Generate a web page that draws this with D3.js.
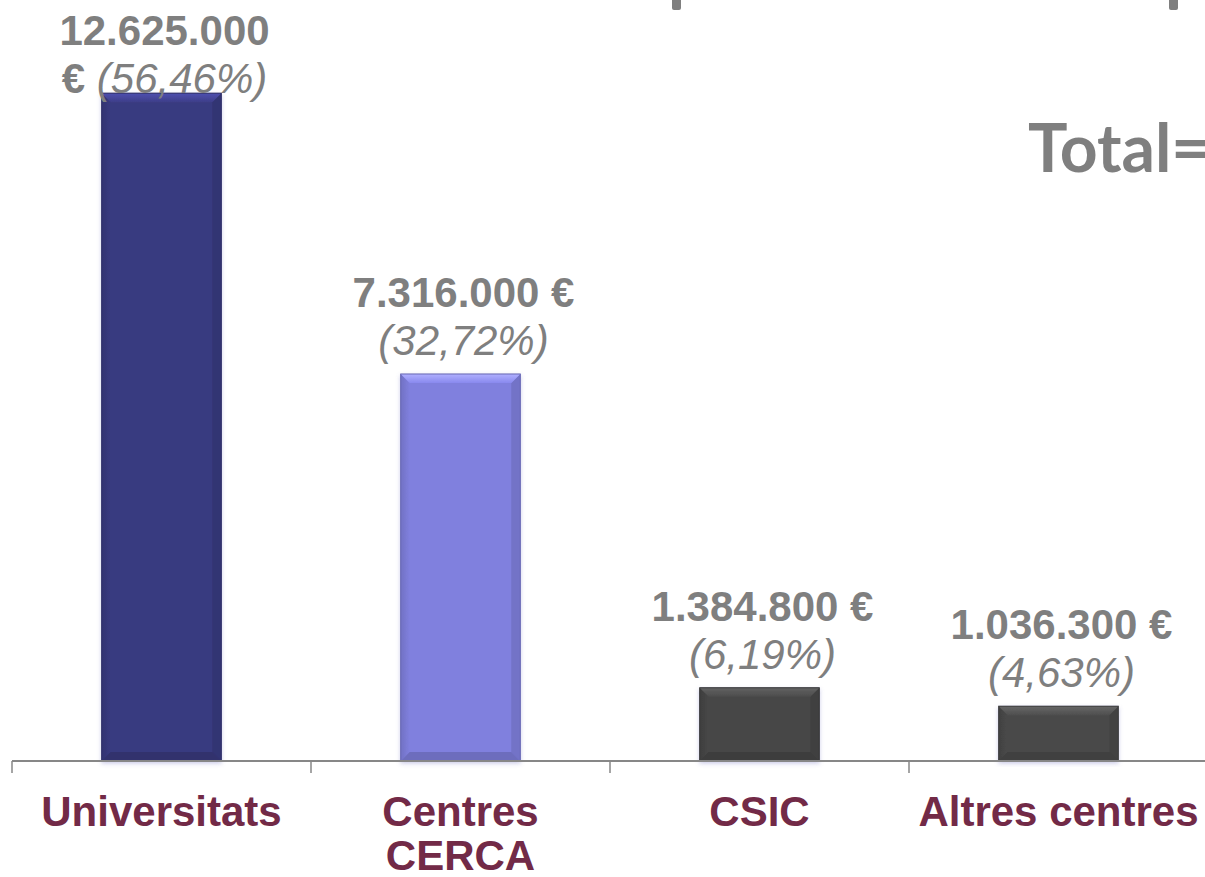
<!DOCTYPE html>
<html>
<head>
<meta charset="utf-8">
<script src="https://cdn.jsdelivr.net/npm/d3@7"></script>
<style>
  html, body { margin: 0; padding: 0; background: #fff; overflow: hidden; }
  svg { display: block; }
</style>
</head>
<body>
<div id="chart"></div>
<script>
// data
var categories = ["Universitats", "Centres CERCA", "CSIC", "Altres centres"];
var amounts = [12625000, 7316000, 1384800, 1036300];
var shares = [56.46, 32.72, 6.19, 4.63];
var barColors = ["#393a80", "#8080de", "#474747", "#4a4a4a"];

var width = 1205, height = 877;
var baseY = 761;

var loc = d3.formatLocale({decimal: ",", thousands: ".", grouping: [3], currency: ["", " €"]});
var fmtAmount = loc.format(",.0f"),
    fmtShare = loc.format(".2f");

var svg = d3.select("#chart").append("svg")
    .attr("width", width)
    .attr("height", height);

var defs = svg.append("defs");

var x = d3.scaleBand()
    .domain(categories)
    .range([12, 1208])
    .paddingInner(0.6)
    .paddingOuter(0.3);

var y = d3.scaleLinear()
    .domain([0, 13000000])
    .range([baseY, baseY - 13 * 52.9]);

// gradients for the bevel look
barColors.forEach(function(c, i) {
    var top = defs.append("linearGradient")
        .attr("id", "top" + i).attr("x1", 0).attr("y1", 0).attr("x2", 0).attr("y2", 1);
    top.append("stop").attr("offset", 0).attr("stop-color", d3.color(c).brighter(0.9));
    top.append("stop").attr("offset", 1).attr("stop-color", d3.color(c).brighter(0.2));

    var side = defs.append("linearGradient")
        .attr("id", "side" + i).attr("x1", 0).attr("y1", 0).attr("x2", 1).attr("y2", 0);
    side.append("stop").attr("offset", 0).attr("stop-color", d3.color(c).darker(0.35));
    side.append("stop").attr("offset", 1).attr("stop-color", c);
});

var shadow = defs.append("filter").attr("id", "shadow")
    .attr("x", "-10%").attr("y", "-10%").attr("width", "120%").attr("height", "120%");
shadow.append("feDropShadow").attr("dx", 0).attr("dy", 2).attr("stdDeviation", 2)
    .attr("flood-color", "#6f6fc0").attr("flood-opacity", 0.35);

// clipped title descenders at the very top of the slide
svg.selectAll(".desc")
    .data([672, 1169])
    .enter().append("rect")
    .attr("class", "desc")
    .attr("x", function(d) { return d; })
    .attr("y", -6)
    .attr("width", 9)
    .attr("height", 16)
    .attr("rx", 2)
    .attr("fill", "#7f7f7f");

// total (runs off the right edge in the original)
var total = d3.sum(amounts);
svg.append("text")
    .attr("x", 1028)
    .attr("y", 172)
    .attr("font-family", "Lato, 'Open Sans', sans-serif")
    .attr("font-weight", "bold")
    .attr("font-size", 66)
    .attr("fill", "#7f7f7f")
    .text("Total= " + fmtAmount(total) + " €");

// bars
var b = 9;
var bars = svg.selectAll(".bar")
    .data(categories)
    .enter().append("g")
    .attr("class", "bar")
    .attr("filter", "url(#shadow)");

bars.each(function(d, i) {
    var g = d3.select(this);
    var x0 = x(d), w = x.bandwidth(), y0 = y(amounts[i]), h = baseY - y0;
    var c = barColors[i];

    g.append("rect")
        .attr("x", x0).attr("y", y0).attr("width", w).attr("height", h)
        .attr("fill", c);
    // left side
    g.append("path")
        .attr("d", "M" + x0 + "," + y0 + "L" + (x0 + b) + "," + (y0 + b) + "L" + (x0 + b) + "," + (baseY - b) + "L" + x0 + "," + baseY + "Z")
        .attr("fill", "url(#side" + i + ")");
    // right side
    g.append("path")
        .attr("d", "M" + (x0 + w) + "," + y0 + "L" + (x0 + w - b) + "," + (y0 + b) + "L" + (x0 + w - b) + "," + (baseY - b) + "L" + (x0 + w) + "," + baseY + "Z")
        .attr("fill", d3.color(c).darker(0.3));
    // bottom
    g.append("path")
        .attr("d", "M" + x0 + "," + baseY + "L" + (x0 + b) + "," + (baseY - b) + "L" + (x0 + w - b) + "," + (baseY - b) + "L" + (x0 + w) + "," + baseY + "Z")
        .attr("fill", d3.color(c).darker(0.45));
    // top bevel
    g.append("path")
        .attr("d", "M" + x0 + "," + y0 + "L" + (x0 + w) + "," + y0 + "L" + (x0 + w - b) + "," + (y0 + b) + "L" + (x0 + b) + "," + (y0 + b) + "Z")
        .attr("fill", "url(#top" + i + ")");
    g.append("rect")
        .attr("x", x0).attr("y", y0).attr("width", w).attr("height", h)
        .attr("fill", "none")
        .attr("stroke", d3.color(c).darker(0.6))
        .attr("stroke-width", 1);
});

// axis line + ticks at band boundaries
svg.append("line")
    .attr("x1", x.range()[0]).attr("x2", width)
    .attr("y1", baseY).attr("y2", baseY)
    .attr("stroke", "#878787").attr("stroke-width", 2);

var bounds = d3.range(categories.length + 1).map(function(i) { return x.range()[0] + i * x.step(); });
svg.selectAll(".tick")
    .data(bounds)
    .enter().append("line")
    .attr("class", "tick")
    .attr("x1", function(d) { return d; }).attr("x2", function(d) { return d; })
    .attr("y1", baseY).attr("y2", baseY + 12)
    .attr("stroke", "#878787").attr("stroke-width", 1.5);

// category labels, wrapped to the band width
function measure(str, attrs) {
    var t = svg.append("text").attr("font-family", "'Liberation Sans', Arial, sans-serif");
    Object.keys(attrs).forEach(function(k) { t.attr(k, attrs[k]); });
    t.text(str);
    var len = t.node().getComputedTextLength();
    t.remove();
    return len;
}

var catFont = {"font-size": 42, "font-weight": "bold"};
categories.forEach(function(d) {
    var words = d.split(" "), lines = [], cur = "";
    words.forEach(function(wd) {
        var test = cur ? cur + " " + wd : wd;
        if (cur && measure(test, catFont) > x.step()) { lines.push(cur); cur = wd; }
        else cur = test;
    });
    lines.push(cur);

    var t = svg.append("text")
        .attr("text-anchor", "middle")
        .attr("font-family", "'Liberation Sans', Arial, sans-serif")
        .attr("font-weight", "bold")
        .attr("font-size", 42)
        .attr("fill", "#722a47");
    lines.forEach(function(l, j) {
        t.append("tspan")
            .attr("x", x(d) + x.bandwidth() / 2)
            .attr("y", 826 + j * 44)
            .text(l);
    });
});

// value labels above bars
var valFont = {"font-size": 42, "font-weight": "bold"};
categories.forEach(function(d, i) {
    var cx = x(d) + x.bandwidth() / 2 + 3;
    var line2Y = Math.max(y(amounts[i]) - 19, 93);
    var amt = fmtAmount(amounts[i]);
    var pct = "(" + fmtShare(shares[i]) + "%)";
    var euroOnFirst = measure(amt + " €", valFont) <= 235;

    var g = svg.append("g")
        .attr("font-family", "'Liberation Sans', Arial, sans-serif")
        .attr("font-size", 42)
        .attr("fill", "#7f7f7f")
        .attr("text-anchor", "middle");

    g.append("text")
        .attr("x", cx).attr("y", line2Y - 48)
        .attr("font-weight", "bold")
        .text(euroOnFirst ? amt + " €" : amt);

    var t2 = g.append("text")
        .attr("x", cx).attr("y", line2Y);
    if (!euroOnFirst) {
        t2.append("tspan").attr("font-weight", "bold").text("€ ");
    }
    t2.append("tspan").attr("font-style", "italic").text(pct);
});
</script>
</body>
</html>
